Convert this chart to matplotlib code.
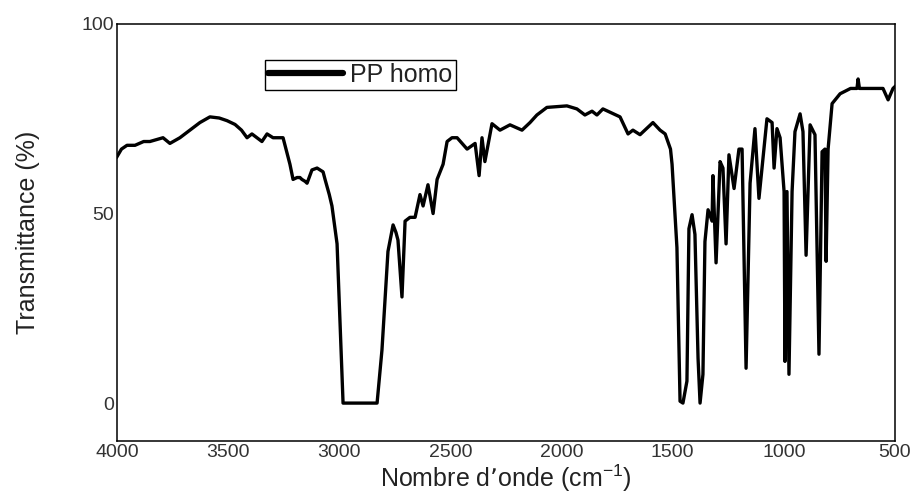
import matplotlib
matplotlib.use("Agg")
import matplotlib.pyplot as plt

plt.rcParams['font.family'] = ['Liberation Sans', 'DejaVu Sans']

# spectre IR du PP homo
wavenumber = [4000, 3980, 3955, 3919, 3880, 3852, 3793, 3762, 3717, 3672, 3627, 3582,
              3540, 3505, 3469, 3440, 3415, 3393, 3348, 3325, 3298, 3253, 3235, 3222,
              3208, 3190, 3177, 3168, 3154, 3145, 3123, 3100, 3073, 3064, 3045, 3033,
              3010, 2997, 2983, 2830, 2808, 2781, 2758, 2745, 2736, 2718, 2704, 2682,
              2659, 2637, 2623, 2601, 2578, 2560, 2533, 2515, 2493, 2470, 2425, 2389,
              2371, 2358, 2345, 2313, 2277, 2232, 2178, 2142, 2111, 2066, 1976, 1931,
              1895, 1863, 1841, 1814, 1737, 1701, 1679, 1647, 1589, 1557, 1534, 1510,
              1503, 1481, 1467, 1454, 1436, 1427, 1413, 1400, 1386, 1377, 1364, 1355,
              1341, 1323, 1319, 1305, 1287, 1274, 1260, 1247, 1224, 1202, 1188, 1170,
              1152, 1130, 1112, 1076, 1053, 1044, 1031, 1017, 999, 995, 986, 977,
              963, 950, 927, 914, 900, 882, 860, 842, 828, 815, 810, 801,
              783, 747, 700, 671, 666, 660, 644, 554, 531, 509, 500]
transmittance = [65, 67, 68, 68, 69, 69, 70, 68.5, 70, 72, 74, 75.5,
                 75.2, 74.5, 73.5, 72, 70, 71, 69, 71, 70, 70, 66, 63,
                 59, 59.5, 59.5, 59, 58.5, 58, 61.5, 62, 61, 59, 55, 52,
                 42, 22, 0, 0, 14, 40, 47, 45, 43, 28, 48, 49,
                 49, 55, 52, 57.6, 50, 59, 63, 69, 70, 70, 67, 68.5,
                 60, 70, 63.7, 73.7, 72, 73.4, 72, 74, 76, 78, 78.4, 77.6,
                 76, 77, 76, 77.6, 75.5, 71, 72, 70.8, 74, 72, 71, 67,
                 63, 41, 0.5, 0, 5.8, 46, 49.7, 44.5, 11.8, 0, 7.6, 42.6,
                 51, 48, 60, 37, 63.7, 62, 42, 65.5, 56.6, 67, 67, 9.2,
                 58, 72.4, 54, 75, 74, 62, 72.4, 70, 55.8, 11, 55.8, 7.6,
                 55.8, 71.6, 76.3, 71.6, 39, 73.4, 70.8, 12.9, 66.3, 67, 37.4, 67,
                 79, 81.6, 83, 83, 85.5, 83, 83, 83, 80, 83, 83.5]

x_ticks = [4000, 3500, 3000, 2500, 2000, 1500, 1000, 500]
y_ticks = [0, 50, 100]

fig = plt.figure(figsize=(9.15, 4.92), dpi=100)
ax = fig.add_axes([117/915, 1 - 441/492, 778/915, 417/492])

ax.plot(wavenumber, transmittance, color='black', lw=2.4, solid_joinstyle='round',
        label='PP homo')

ax.set_xlim(4000, 500)
ax.set_ylim(-10, 100)
ax.set_xticks(x_ticks)
ax.set_yticks(y_ticks)
ax.tick_params(length=0, pad=2, labelsize=14, labelcolor='#333333')
for s in ax.spines.values():
    s.set_linewidth(1.1)

ax.set_xlabel("Nombre d\u2019onde (cm$^{\\mathregular{-1}}$)", fontsize=18,
              color='#222222', labelpad=1)
ax.set_ylabel("Transmittance (%)", fontsize=18, color='#222222', labelpad=30)

leg = ax.legend(loc='upper left', bbox_to_anchor=(0.19, 0.914), borderaxespad=0,
                fontsize=18, frameon=True, fancybox=False, edgecolor='black',
                framealpha=1, handlelength=3.0, handletextpad=0.3, borderpad=0.12)
leg.get_frame().set_linewidth(1.0)
for line in leg.get_lines():
    line.set_linewidth(4.5)
    line.set_solid_capstyle('round')
for t in leg.get_texts():
    t.set_color('#222222')

fig.savefig('out.png', dpi=100)
